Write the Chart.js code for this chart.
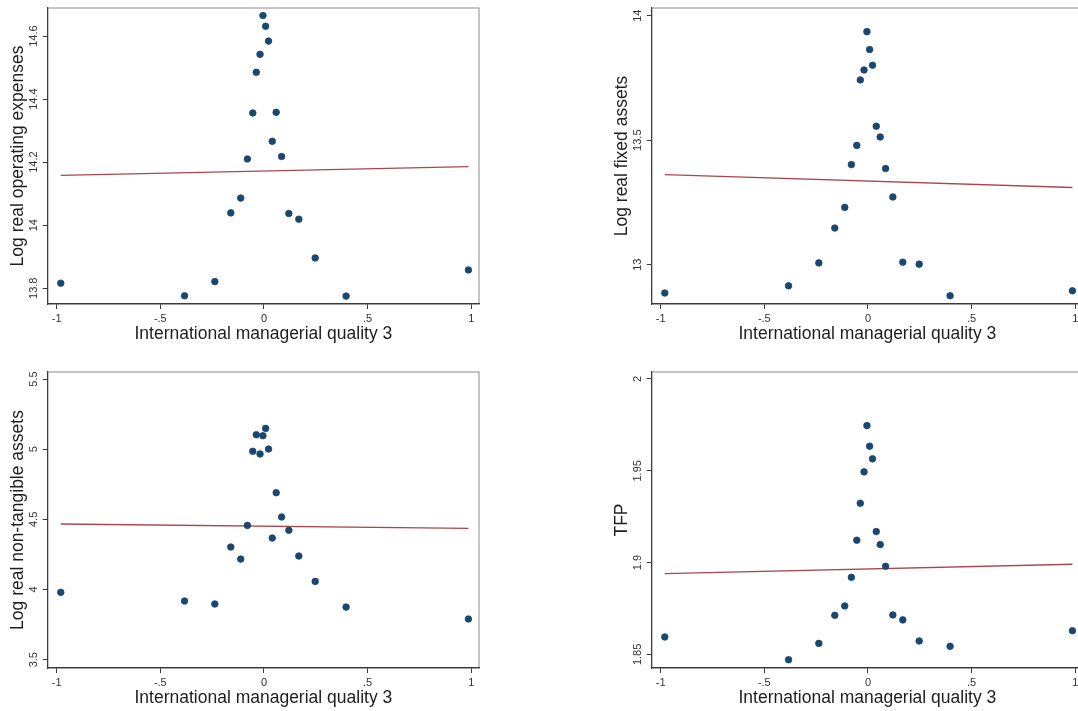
<!DOCTYPE html>
<html>
<head>
<meta charset="utf-8">
<title>Managerial quality scatter</title>
<script src="https://cdn.jsdelivr.net/npm/chart.js@4"></script>
<style>
  html, body { margin: 0; padding: 0; background: #fff; }
  body { width: 1078px; height: 711px; overflow: hidden; position: relative; }
  canvas { position: absolute; }
</style>
</head>
<body>
<canvas id="opexChart" width="485" height="345" style="left:0px;top:0px"></canvas>
<canvas id="fixedChart" width="485" height="345" style="left:604px;top:0px"></canvas>
<canvas id="intangChart" width="485" height="345" style="left:0px;top:364px"></canvas>
<canvas id="tfpChart" width="485" height="345" style="left:604px;top:364px"></canvas>

<script>
// x values are shared by all four panels (binned managerial quality)
const xVals = [-0.98, -0.383, -0.237, -0.16, -0.112, -0.08, -0.054, -0.037, -0.019, -0.005,
               0.008, 0.022, 0.04, 0.059, 0.085, 0.12, 0.168, 0.247, 0.396, 0.986];

const opexVals   = [13.816, 13.776, 13.821, 14.039, 14.086, 14.21, 14.356, 14.485, 14.542, 14.665,
                    14.631, 14.584, 14.266, 14.358, 14.218, 14.037, 14.019, 13.896, 13.775, 13.858];
const fixedVals  = [12.886, 12.915, 13.007, 13.147, 13.23, 13.402, 13.479, 13.742, 13.782, 13.936,
                    13.864, 13.801, 13.556, 13.513, 13.386, 13.272, 13.01, 13.002, 12.875, 12.895];
const intangVals = [3.98, 3.918, 3.897, 4.303, 4.217, 4.457, 4.985, 5.103, 4.966, 5.096,
                    5.148, 5.001, 4.367, 4.69, 4.517, 4.422, 4.239, 4.058, 3.875, 3.79];
const tfpVals    = [1.8595, 1.8471, 1.856, 1.8713, 1.8764, 1.892, 1.9122, 1.9323, 1.9494, 1.9746,
                    1.9634, 1.9565, 1.9169, 1.9098, 1.898, 1.8715, 1.8688, 1.8573, 1.8544, 1.8629];

// fitted line, value at first and last x
const opexFit   = [14.158, 14.186];
const fixedFit  = [13.362, 13.31];
const intangFit = [4.467, 4.436];
const tfpFit    = [1.894, 1.8991];

// tick labels
const xTicks      = [-1, -0.5, 0, 0.5, 1];
const opexTicks   = [13.8, 14, 14.2, 14.4, 14.6];
const fixedTicks  = [13, 13.5, 14];
const intangTicks = [3.5, 4, 4.5, 5, 5.5];
const tfpTicks    = [1.85, 1.9, 1.95, 2];

const xTitle = 'International managerial quality 3';

const FONT = '"Liberation Sans", Arial, Helvetica, sans-serif';
const axisColor = '#3a3a3a';
const textColor = '#1e1e1e';
const tickText = '#333';
const dotColor = '#1a476f';
const fitColor = '#a8484e';

// Stata style numbers: -.5, .5
function fmt(v) {
  return String(+v.toFixed(4)).replace(/^(-?)0\./, '$1.');
}

// measure widest tick label so rotated labels sit at the same distance from the axis
const measureCtx = document.createElement('canvas').getContext('2d');
function yPad(ticks) {
  measureCtx.font = '11px ' + FONT;
  const widest = Math.max(...ticks.map(t => measureCtx.measureText(fmt(t)).width));
  return 8.5 - widest / 2;
}

// light frame round the plot region
const framePlugin = {
  id: 'frame',
  beforeDraw(chart) {
    const a = chart.chartArea;
    const ctx = chart.ctx;
    ctx.save();
    ctx.strokeStyle = '#8c8c8c';
    ctx.lineWidth = 1;
    ctx.strokeRect(a.left, a.top, a.right - a.left, a.bottom - a.top);
    ctx.restore();
  }
};

function makePanel(id, yVals, fit, yMin, yMax, yTicks, yTitle) {
  const pts = xVals.map((x, i) => ({ x: x, y: yVals[i] }));
  const line = [
    { x: xVals[0], y: fit[0] },
    { x: xVals[xVals.length - 1], y: fit[1] }
  ];

  new Chart(document.getElementById(id), {
    type: 'scatter',
    data: {
      datasets: [{
        data: pts,
        pointRadius: 3.3,
        pointBorderWidth: 0.8,
        pointBackgroundColor: dotColor,
        pointBorderColor: dotColor,
        order: 0
      }, {
        data: line,
        showLine: true,
        borderColor: fitColor,
        borderWidth: 1.3,
        pointRadius: 0,
        fill: false,
        order: 1
      }]
    },
    options: {
      responsive: false,
      animation: false,
      events: [],
      layout: { padding: { left: 0, top: 8, right: 6, bottom: 0 } },
      plugins: { legend: { display: false }, tooltip: { enabled: false } },
      scales: {
        x: {
          type: 'linear',
          min: -1.043,
          max: 1.037,
          afterBuildTicks: s => { s.ticks = xTicks.map(v => ({ value: v })); },
          afterFit: s => { s.height = 41; s.paddingLeft = 0; s.paddingRight = 0; },
          grid: { display: true, drawOnChartArea: false, drawTicks: true, tickLength: 5, tickColor: axisColor, tickWidth: 1 },
          border: { display: true, color: axisColor, width: 1.2 },
          ticks: { autoSkip: false, maxRotation: 0, padding: 3, color: tickText, font: { family: FONT, size: 11 }, callback: v => fmt(v) },
          title: { display: true, text: xTitle, color: textColor, font: { family: FONT, size: 17.5 }, padding: 0 }
        },
        y: {
          type: 'linear',
          min: yMin,
          max: yMax,
          afterBuildTicks: s => { s.ticks = yTicks.map(v => ({ value: v })); },
          afterFit: s => { s.width = 47.7; s.paddingTop = 0; s.paddingBottom = 0; },
          grid: { display: true, drawOnChartArea: false, drawTicks: true, tickLength: 5, tickColor: axisColor, tickWidth: 1 },
          border: { display: true, color: axisColor, width: 1.2 },
          ticks: { minRotation: 90, maxRotation: 90, crossAlign: 'center', padding: yPad(yTicks), color: tickText, font: { family: FONT, size: 11 }, callback: v => fmt(v) },
          title: { display: true, text: yTitle, color: textColor, font: { family: FONT, size: 17.5 }, padding: { top: 8, bottom: 0 } }
        }
      }
    },
    plugins: [framePlugin]
  });
}

makePanel('opexChart', opexVals, opexFit, 13.75, 14.689, opexTicks, 'Log real operating expenses');
makePanel('fixedChart', fixedVals, fixedFit, 12.842, 14.031, fixedTicks, 'Log real fixed assets');
makePanel('intangChart', intangVals, intangFit, 3.441, 5.55, intangTicks, 'Log real non-tangible assets');
makePanel('tfpChart', tfpVals, tfpFit, 1.8426, 2.0038, tfpTicks, 'TFP');
</script>
</body>
</html>
